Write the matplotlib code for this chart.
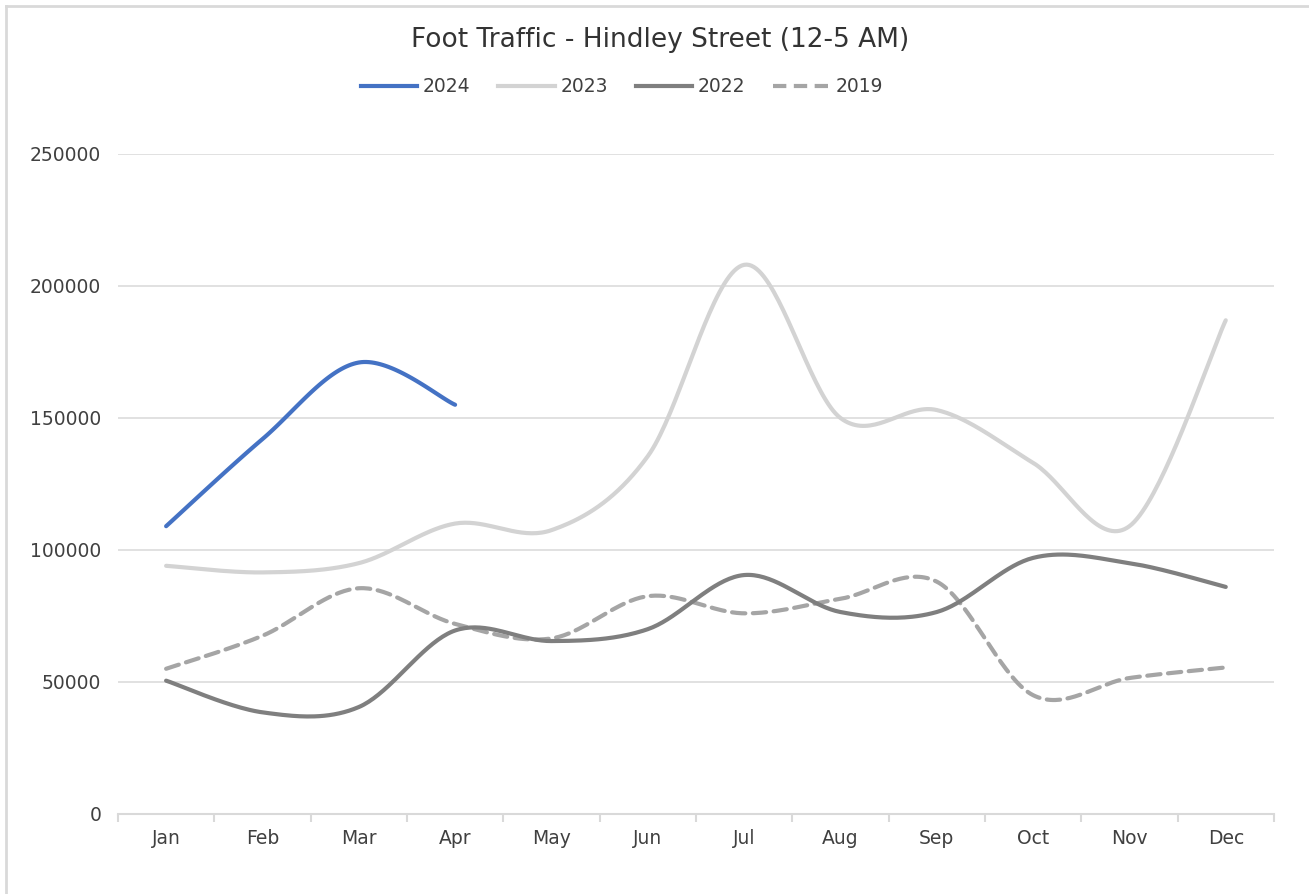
import numpy as np
import matplotlib.pyplot as plt
from matplotlib.lines import Line2D

# monthly foot traffic
months = ['Jan', 'Feb', 'Mar', 'Apr', 'May', 'Jun',
          'Jul', 'Aug', 'Sep', 'Oct', 'Nov', 'Dec']
traffic_2024 = [109000, 142000, 171000, 155000]
traffic_2023 = [94000, 91500, 95000, 110000, 107500, 135500,
                208000, 150000, 153000, 133000, 109000, 187000]
traffic_2022 = [50500, 38500, 40500, 69500, 65500, 70000,
                90500, 76500, 76500, 97000, 95000, 86000]
traffic_2019 = [55000, 67500, 85500, 72000, 66500, 82500,
                76000, 81500, 88000, 45000, 51500, 55500]
y_ticks = [0, 50000, 100000, 150000, 200000, 250000]

TXT = '#404040'
GRID = '#D9D9D9'


def smooth(vals, steps=40):
    # excel style smoothed line: cubic bezier through the points,
    # control points from the neighbours (catmull-rom, 1/6)
    y = np.asarray(vals, dtype=float)
    x = np.arange(len(y), dtype=float)
    pts = np.column_stack([x, y])
    n = len(pts)
    out = [pts[:1]]
    t = np.linspace(0, 1, steps)[1:, None]
    for i in range(n - 1):
        p0 = pts[max(i - 1, 0)]
        p1 = pts[i]
        p2 = pts[i + 1]
        p3 = pts[min(i + 2, n - 1)]
        c1 = p1 + (p2 - p0) / 6.0
        c2 = p2 - (p3 - p1) / 6.0
        seg = ((1 - t) ** 3) * p1 + 3 * ((1 - t) ** 2) * t * c1 \
            + 3 * (1 - t) * t ** 2 * c2 + t ** 3 * p2
        out.append(seg)
    seg = np.vstack(out)
    return seg[:, 0], seg[:, 1]


plt.rcParams['font.family'] = ['DejaVu Sans']

fig = plt.figure(figsize=(13.09, 8.94), dpi=100)
ax = fig.add_axes([0.0901, 0.0895, 0.8831, 0.7383])

series = [
    ('2024', traffic_2024, '#4472C4', '-'),
    ('2023', traffic_2023, '#D3D3D3', '-'),
    ('2022', traffic_2022, '#7F7F7F', '-'),
    ('2019', traffic_2019, '#A5A5A5', '--'),
]

# draw older years first so 2024 sits on top
for name, vals, col, ls in reversed(series):
    xs, ys = smooth(vals)
    if ls == '--':
        ax.plot(xs, ys, color=col, lw=3.0, dashes=(3.2, 1.8),
                dash_capstyle='round', label=name)
    else:
        ax.plot(xs, ys, color=col, lw=3.0, solid_capstyle='round', label=name)

ax.set_xlim(-0.5, len(months) - 0.5)
ax.set_ylim(0, 250000)
ax.set_yticks(y_ticks)
ax.set_yticklabels([str(v) for v in y_ticks])
ax.set_xticks(np.arange(len(months)))
ax.set_xticklabels(months)
ax.set_xticks(np.arange(len(months) + 1) - 0.5, minor=True)

ax.grid(axis='y', color=GRID, lw=1.1)
ax.set_axisbelow(True)
for s in ['top', 'right', 'left']:
    ax.spines[s].set_visible(False)
ax.spines['bottom'].set_color(GRID)
ax.spines['bottom'].set_linewidth(1.5)

ax.tick_params(axis='y', length=0, pad=12, labelsize=13.5, labelcolor=TXT)
ax.tick_params(axis='x', which='major', length=0, pad=11,
               labelsize=13.5, labelcolor=TXT)
ax.tick_params(axis='x', which='minor', length=6, width=1.5, color=GRID)

fig.text(0.504, 0.955, 'Foot Traffic - Hindley Street (12-5 AM)',
         ha='center', va='center', fontsize=19, color='#333333')

handles = [Line2D([], [], color=c, lw=3.0, ls=ls) if ls == '-' else
           Line2D([], [], color=c, lw=3.0, dashes=(3.2, 1.8))
           for _, _, c, ls in series]
fig.legend(handles, [s[0] for s in series], loc='center',
           bbox_to_anchor=(0.475, 0.903), ncol=4, frameon=False,
           fontsize=13.5, handlelength=3.0, handletextpad=0.3,
           columnspacing=1.5, labelcolor=TXT)

# thin frame on the left and top edge, like the screenshot
fig.add_artist(Line2D([6 / 1309, 6 / 1309], [0, 1 - 6 / 894],
                      transform=fig.transFigure, color=GRID, lw=2))
fig.add_artist(Line2D([6 / 1309, 1], [1 - 6 / 894, 1 - 6 / 894],
                      transform=fig.transFigure, color=GRID, lw=2))

fig.savefig('out.png', dpi=100)
